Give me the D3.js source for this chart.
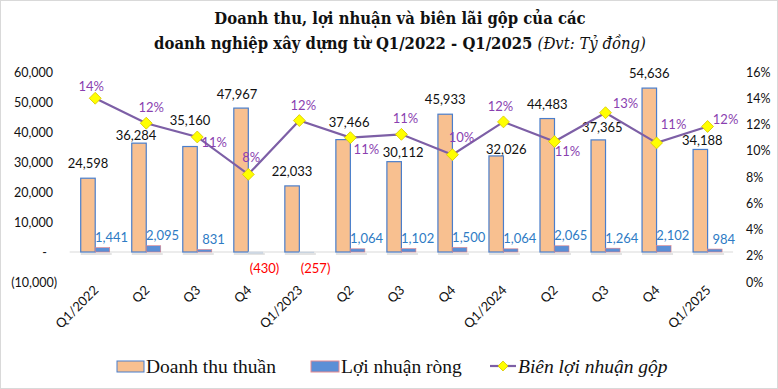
<!DOCTYPE html>
<html>
<head>
<meta charset="utf-8">
<script src="https://cdn.jsdelivr.net/npm/d3@7"></script>
<style>
  body { margin: 0; background: #fff; }
  svg { display: block; }
</style>
</head>
<body>
<div id="chart"></div>
<script>
// data
var quarters = ["Q1/2022", "Q2", "Q3", "Q4", "Q1/2023", "Q2", "Q3", "Q4", "Q1/2024", "Q2", "Q3", "Q4", "Q1/2025"]
var revenue = [24598, 36284, 35160, 47967, 22033, 37466, 30112, 45933, 32026, 44483, 37365, 54636, 34188]
var profit = [1441, 2095, 831, -430, -257, 1064, 1102, 1500, 1064, 2065, 1264, 2102, 984]
var margin = [14.0, 12.1, 11.05, 8.2, 12.3, 11.0, 11.25, 9.7, 12.2, 10.7, 12.9, 10.6, 11.85]
var marginLabels = ["14%", "12%", "11%", "8%", "12%", "11%", "11%", "10%", "12%", "11%", "13%", "11%", "12%"]
var leftTicks = [-10000, 0, 10000, 20000, 30000, 40000, 50000, 60000]
var rightTicks = [0, 2, 4, 6, 8, 10, 12, 14, 16]

// label nudges (px), the source chart had hand placed labels
var revLabelDy = [-15, -8, -26, -14, -14, -17, -9, -15, -6, -14, -12, -15, -9]
var revLabelDx = [0, -3, 0, -4, 0, 6, 9, 0, 10, 0, 4, 0, 2]
var pctLabelDx = [-4, 5, 17, 3, 4, 16, 4, 9, -3, 13, 20, 17, 18]
var pctLabelDy = [-12, -16, 5, -17, -15, 12, -16, -17, -15, 10, -9, -18, -7]

var W = 778, H = 389
var svg = d3.select("#chart").append("svg")
    .attr("width", W)
    .attr("height", H)

svg.append("rect")
    .attr("x", 0.5).attr("y", 0.5)
    .attr("width", W - 1).attr("height", H - 1)
    .attr("fill", "#fff")
    .attr("stroke", "#d9d9d9")

var plotLeft = 69.7, plotRight = 733.1, plotTop = 72, plotBottom = 282

var x = d3.scaleBand()
    .domain(d3.range(quarters.length))
    .range([plotLeft, plotRight])
    .paddingInner(0).paddingOuter(0)

var y = d3.scaleLinear()
    .domain([-10000, 60000])
    .range([plotBottom, plotTop])

var y2 = d3.scaleLinear()
    .domain([0, 16])
    .range([plotBottom, plotTop])

var barW = 14.5
var numFont = "Lato, 'Open Sans', sans-serif"

// title
var title = svg.append("text")
    .attr("text-anchor", "middle")
    .attr("font-family", "'DejaVu Serif Condensed', 'Liberation Serif', serif")
    .attr("font-weight", "bold")
    .attr("font-size", 16.5)
    .attr("fill", "#111")
title.append("tspan").attr("x", 400).attr("y", 24).text("Doanh thu, lợi nhuận và biên lãi gộp của các")
var t2 = title.append("tspan").attr("x", 400).attr("y", 49)
t2.append("tspan").text("doanh nghiệp xây dựng từ Q1/2022 - Q1/2025 ")
t2.append("tspan").attr("font-weight", "normal").attr("font-style", "italic").text("(Đvt: Tỷ đồng)")

// left axis
var leftAxis = svg.append("g")
    .attr("transform", "translate(53,0)")
    .call(d3.axisLeft(y).tickValues(leftTicks).tickSize(0).tickPadding(0)
      .tickFormat(function(d) {
        if (d === 0) return "-"
        if (d < 0) return "(" + d3.format(",")(-d) + ")"
        return d3.format(",")(d)
      }))
leftAxis.select(".domain").remove()
leftAxis.selectAll("text")
    .attr("font-family", numFont)
    .attr("font-size", 12.5)
    .attr("fill", "#111")
    .attr("dx", function(d) { return d < 0 ? 4 : (d === 0 ? -6 : 0) })

// right axis
var rightAxis = svg.append("g")
    .attr("transform", "translate(746,0)")
    .call(d3.axisRight(y2).tickValues(rightTicks).tickSize(0).tickPadding(0)
      .tickFormat(function(d) { return d + "%" }))
rightAxis.select(".domain").remove()
rightAxis.selectAll("text")
    .attr("font-family", numFont)
    .attr("font-size", 12.5)
    .attr("fill", "#111")

// zero line
svg.append("line")
    .attr("x1", plotLeft).attr("x2", plotRight)
    .attr("y1", y(0)).attr("y2", y(0))
    .attr("stroke", "#d9d9d9")

function cx(i) { return x(i) + x.bandwidth() / 2 }

// soft shadow below bars
svg.selectAll(".shadow")
  .data(revenue)
  .enter().append("rect")
    .attr("x", function(d, i) { return cx(i) - barW })
    .attr("y", y(0) + 1)
    .attr("width", barW * 2 + 2)
    .attr("height", 2)
    .attr("fill", "#e3e3e3")

// revenue bars
svg.selectAll(".rev")
  .data(revenue)
  .enter().append("rect")
    .attr("class", "rev")
    .attr("x", function(d, i) { return cx(i) - barW })
    .attr("y", function(d) { return y(d) })
    .attr("width", barW)
    .attr("height", function(d) { return y(0) - y(d) })
    .attr("fill", "#f8c090")
    .attr("stroke", "#4a7ecb")
    .attr("stroke-width", 1.2)

// profit bars
svg.selectAll(".prof")
  .data(profit)
  .enter().append("rect")
    .attr("class", "prof")
    .attr("x", function(d, i) { return cx(i) })
    .attr("y", function(d) { return y(Math.max(d, 0)) })
    .attr("width", barW)
    .attr("height", function(d) { return Math.abs(y(d) - y(0)) })
    .attr("fill", function(d) { return d < 0 ? "#d3dbe6" : "#5b8fd6" })
    .attr("stroke", function(d) { return d < 0 ? "#c5d0de" : "#e07f86" })
    .attr("stroke-width", 0.6)

// revenue labels
svg.selectAll(".revLab")
  .data(revenue)
  .enter().append("text")
    .attr("x", function(d, i) { return cx(i) - barW / 2 + revLabelDx[i] })
    .attr("y", function(d, i) { return y(d) + revLabelDy[i] })
    .attr("dy", "0.35em")
    .attr("text-anchor", "middle")
    .attr("font-family", numFont)
    .attr("font-size", 13)
    .attr("fill", "#111")
    .text(function(d) { return d3.format(",")(d) })

// profit labels
svg.selectAll(".profLab")
  .data(profit)
  .enter().append("text")
    .attr("x", function(d, i) { return cx(i) + barW / 2 + 9 })
    .attr("y", function(d) { return d < 0 ? y(0) + 16 : y(d) - 10 })
    .attr("dy", "0.35em")
    .attr("text-anchor", "middle")
    .attr("font-family", numFont)
    .attr("font-size", 13)
    .attr("fill", function(d) { return d < 0 ? "#ff0000" : "#2e7bc4" })
    .text(function(d) { return d < 0 ? "(" + d3.format(",")(-d) + ")" : d3.format(",")(d) })

// margin line
var line = d3.line()
    .x(function(d, i) { return cx(i) })
    .y(function(d) { return y2(d) })

svg.append("path")
    .datum(margin)
    .attr("d", line)
    .attr("fill", "none")
    .attr("stroke", "#7d5fa6")
    .attr("stroke-width", 2.2)

svg.selectAll(".mk")
  .data(margin)
  .enter().append("path")
    .attr("transform", function(d, i) { return "translate(" + cx(i) + "," + y2(d) + ") rotate(45)" })
    .attr("d", "M-4.2,-4.2H4.2V4.2H-4.2Z")
    .attr("fill", "#ffff00")
    .attr("stroke", "#d8c800")
    .attr("stroke-width", 0.8)

svg.selectAll(".pctLab")
  .data(margin)
  .enter().append("text")
    .attr("x", function(d, i) { return cx(i) + pctLabelDx[i] })
    .attr("y", function(d, i) { return y2(d) + pctLabelDy[i] })
    .attr("dy", "0.35em")
    .attr("text-anchor", "middle")
    .attr("font-family", numFont)
    .attr("font-size", 13)
    .attr("fill", "#8a3fb0")
    .text(function(d, i) { return marginLabels[i] })

// x labels
svg.selectAll(".xLab")
  .data(quarters)
  .enter().append("text")
    .attr("transform", function(d, i) { return "translate(" + (cx(i) + 4) + ",291) rotate(-45)" })
    .attr("text-anchor", "end")
    .attr("font-family", numFont)
    .attr("font-size", 13)
    .attr("fill", "#111")
    .text(function(d) { return d })

// legend
var legFont = "'Liberation Serif', 'DejaVu Serif', serif"
var leg = svg.append("g").attr("transform", "translate(0,366)")

leg.append("rect").attr("x", 117).attr("y", -5).attr("width", 27).attr("height", 11)
    .attr("fill", "#f8c090").attr("stroke", "#4a7ecb")
leg.append("text").attr("x", 146).attr("y", 0).attr("dy", "0.35em")
    .attr("font-family", legFont).attr("font-size", 19.5).attr("fill", "#111")
    .text("Doanh thu thuần")

leg.append("rect").attr("x", 311).attr("y", -5).attr("width", 28).attr("height", 11)
    .attr("fill", "#5b8fd6").attr("stroke", "#e88a90")
leg.append("text").attr("x", 341).attr("y", 0).attr("dy", "0.35em")
    .attr("font-family", legFont).attr("font-size", 19.5).attr("fill", "#111")
    .text("Lợi nhuận ròng")

leg.append("line").attr("x1", 490).attr("x2", 516).attr("y1", 0).attr("y2", 0)
    .attr("stroke", "#7d5fa6").attr("stroke-width", 2.2)
leg.append("path").attr("transform", "translate(503,0) rotate(45)")
    .attr("d", "M-3.5,-3.5H3.5V3.5H-3.5Z")
    .attr("fill", "#ffff00").attr("stroke", "#d8c800").attr("stroke-width", 0.8)
leg.append("text").attr("x", 518).attr("y", 0).attr("dy", "0.35em")
    .attr("font-family", legFont).attr("font-size", 19.5).attr("font-style", "italic").attr("fill", "#111")
    .text("Biên lợi nhuận gộp")
</script>
</body>
</html>
